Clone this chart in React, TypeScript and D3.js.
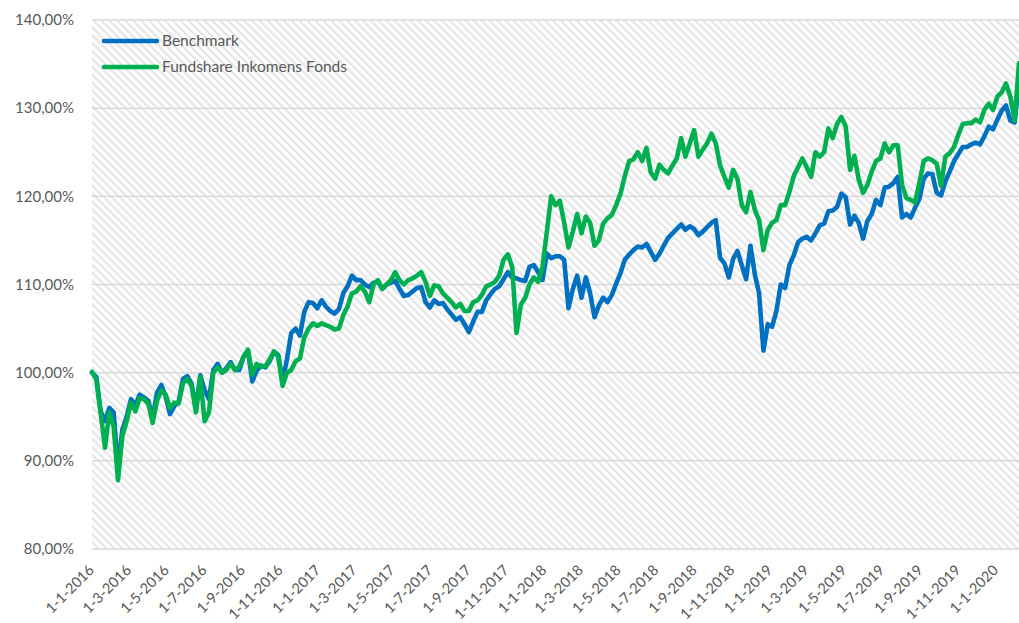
import React from 'react'
import * as d3 from 'd3'

// weekly closes (index 0 = 1-1-2016)
const startDate = new Date(2016, 0, 1)

const benchmark = [
  100.0, 99.5, 95.6, 94.5, 96.0, 95.5, 89.0, 93.5, 95.0, 97.0,
  96.3, 97.5, 97.2, 96.8, 94.8, 97.7, 98.6, 97.3, 95.3, 96.2,
  96.7, 99.3, 99.6, 98.7, 96.0, 99.7, 98.0, 97.0, 100.3, 101.0,
  100.0, 100.5, 101.2, 100.3, 100.3, 101.8, 102.5, 99.0, 100.2, 100.8,
  100.6, 101.3, 102.4, 102.0, 99.0, 101.5, 104.5, 105.0, 104.2, 106.9,
  108.0, 107.9, 107.3, 108.2, 107.5, 107.0, 106.7, 107.2, 109.0, 109.8,
  111.0, 110.5, 110.5, 110.0, 109.7, 110.2, 110.3, 109.5, 110.0, 110.2,
  110.4, 109.5, 108.7, 108.8, 109.2, 109.6, 109.7, 108.0, 107.4, 108.2,
  107.8, 107.9, 107.2, 106.6, 106.0, 106.3, 105.5, 104.6, 105.8, 106.9,
  106.9, 108.2, 108.9, 109.5, 109.8, 110.6, 111.4, 110.8, 110.7, 110.5,
  110.4, 112.0, 112.2, 111.4, 110.5, 113.5, 113.0, 113.2, 113.2, 112.8,
  107.3, 109.5, 111.0, 108.5, 110.8, 109.0, 106.3, 107.6, 108.5, 108.0,
  108.8, 110.1, 111.3, 112.8, 113.4, 113.9, 114.3, 114.2, 114.6, 113.7,
  112.8, 113.5, 114.4, 115.3, 115.8, 116.3, 116.8, 116.2, 116.6, 116.3,
  115.6, 116.0, 116.5, 117.0, 117.3, 113.0, 112.4, 110.8, 112.9, 113.8,
  112.2, 110.6, 114.4, 111.2, 109.0, 102.5, 105.5, 105.2, 107.0, 110.0,
  109.6, 112.2, 113.3, 114.8, 115.2, 115.4, 115.0, 115.8, 116.7, 116.9,
  118.3, 118.4, 118.8, 120.3, 119.9, 116.8, 117.8, 117.0, 115.2, 117.2,
  118.0, 119.6, 119.0, 121.0, 121.1, 121.5, 122.2, 117.6, 118.0, 117.6,
  118.7, 119.7, 122.0, 122.6, 122.5, 120.4, 120.1, 121.7, 122.8, 124.0,
  124.8, 125.6, 125.6, 125.9, 126.1, 125.9, 126.8, 127.9, 127.6, 128.7,
  129.7, 130.3, 128.6, 128.4, 133.2,
]

const fund = [
  100.1, 99.2, 95.4, 91.5, 95.5, 93.9, 87.8, 92.8, 94.5, 96.6,
  95.6, 97.1, 97.0, 96.5, 94.3, 96.8, 98.0, 97.5, 96.0, 96.6,
  96.5, 98.8, 99.3, 98.5, 95.5, 99.5, 94.5, 95.5, 100.0, 100.6,
  100.0, 100.3, 101.0, 100.3, 100.7, 101.8, 102.6, 99.8, 101.0, 100.7,
  100.7, 101.5, 102.4, 101.8, 98.5, 100.0, 100.3, 101.3, 101.6, 104.0,
  105.0, 105.6, 105.3, 105.6, 105.4, 105.2, 104.9, 105.0, 106.5, 107.5,
  109.0, 109.2, 109.8, 109.2, 108.0, 110.0, 110.5, 109.5, 110.0, 110.5,
  111.4, 110.5, 110.0, 110.5, 110.7, 111.0, 111.4, 110.3, 108.7, 109.9,
  109.8, 109.0, 108.5, 108.0, 107.4, 107.8, 107.0, 107.0, 108.0, 108.2,
  108.8, 109.8, 110.0, 110.3, 111.0, 112.8, 113.4, 112.0, 104.5, 107.7,
  108.5, 110.0, 110.8, 110.3, 112.0, 116.0, 120.0, 119.0, 119.5, 117.0,
  114.2, 116.0, 118.0, 115.8, 117.7, 117.0, 114.4, 115.0, 116.9, 117.5,
  117.9, 119.0, 120.3, 122.3, 124.0, 124.2, 125.0, 124.0, 125.5, 122.7,
  122.0, 123.6, 123.0, 122.6, 123.5, 124.3, 126.6, 124.5, 126.0, 127.5,
  124.5, 125.3, 126.0, 127.1, 126.0, 123.5, 122.2, 121.0, 123.0, 122.0,
  119.0, 118.2, 120.5, 118.5, 117.3, 113.9, 116.2, 117.0, 117.3, 119.0,
  119.0, 120.5, 122.3, 123.3, 124.3, 123.3, 122.2, 125.0, 124.5, 125.0,
  127.7, 126.6, 128.2, 129.0, 127.9, 123.0, 124.6, 121.9, 120.4, 121.3,
  122.8, 124.0, 124.3, 126.0, 125.0, 125.8, 125.8, 121.3, 119.8, 119.6,
  119.3, 121.5, 124.0, 124.3, 124.1, 123.7, 121.2, 124.5, 124.9, 125.6,
  127.0, 128.2, 128.3, 128.3, 128.7, 128.4, 129.8, 130.5, 129.8, 131.3,
  131.8, 132.8, 131.3, 128.6, 135.1,
]

const seriesNames = ['Benchmark', 'Fundshare Inkomens Fonds']
const seriesColors = ['#0070C0', '#00B050']
const yTicks = [80, 90, 100, 110, 120, 130, 140]

const W = 1019
const H = 623
const margin = { top: 20, right: 0, bottom: 74, left: 92 }
const font = 'Lato, "Open Sans", sans-serif'
const textColor = '#595959'

export default function App() {
  const dates = benchmark.map((_, i) => d3.timeDay.offset(startDate, i * 7))

  const x = d3.scaleTime()
    .domain([startDate, dates[dates.length - 1]])
    .range([margin.left, W - margin.right])
  const y = d3.scaleLinear()
    .domain([80, 140])
    .range([H - margin.bottom, margin.top])

  const line = d3.line<number>()
    .x((_, i) => x(dates[i]))
    .y(d => y(d))

  const xTicks = d3.timeMonth.every(2)!.range(startDate, new Date(2020, 0, 2))
  const fmtDate = d3.timeFormat('%-d-%-m-%Y')
  const fmtPct = (v: number) => v.toFixed(2).replace('.', ',') + '%'

  const plotW = W - margin.left - margin.right
  const plotH = H - margin.top - margin.bottom

  return (
    <svg width={W} height={H} style={{ position: 'absolute', left: 0, top: 0, background: '#fff' }}
      fontFamily={font}>
      <defs>
        <pattern id="hatch" width="5.6" height="5.6" patternUnits="userSpaceOnUse"
          patternTransform="rotate(-45)">
          <rect width="5.6" height="5.6" fill="#ffffff" />
          <line x1="1.2" y1="0" x2="1.2" y2="5.6" stroke="#e4e4e4" strokeWidth="2.1" />
        </pattern>
      </defs>

      <rect x={margin.left} y={margin.top} width={plotW} height={plotH} fill="url(#hatch)" />

      {/* gridlines */}
      {yTicks.map(t => (
        <line key={t} x1={margin.left} x2={W - margin.right} y1={y(t)} y2={y(t)}
          stroke="#d9d9d9" strokeWidth={1.5} />
      ))}

      {/* y labels */}
      {yTicks.map(t => (
        <text key={t} x={74} y={y(t)} dy="0.35em" textAnchor="end" fontSize={15}
          fill={textColor}>{fmtPct(t)}</text>
      ))}

      {/* x labels */}
      {xTicks.map(d => (
        <text key={+d} transform={`translate(${x(d) + 3},${H - margin.bottom + 22}) rotate(-45)`}
          textAnchor="end" fontSize={14.5} fill={textColor}>{fmtDate(d)}</text>
      ))}

      {/* series */}
      {[benchmark, fund].map((s, k) => (
        <path key={k} d={line(s) || ''} fill="none" stroke={seriesColors[k]}
          strokeWidth={4.6} strokeLinejoin="round" strokeLinecap="round" />
      ))}

      {/* legend */}
      {seriesNames.map((n, k) => (
        <g key={n} transform={`translate(104,${41 + k * 26})`}>
          <line x1={0} x2={53} y1={0} y2={0} stroke={seriesColors[k]} strokeWidth={4.6}
            strokeLinecap="round" />
          <text x={58} y={0} dy="0.35em" fontSize={15.5} fill={textColor}>{n}</text>
        </g>
      ))}
    </svg>
  )
}
